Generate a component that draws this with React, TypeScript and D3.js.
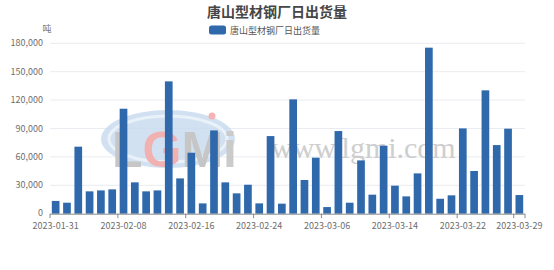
import React from "react";
import * as d3 from "d3";

const W = 554;
const H = 270;

const title = "唐山型材钢厂日出货量";
const seriesName = "唐山型材钢厂日出货量";
const unitLabel = "吨";

const dates = [
  "2023-01-31", "2023-02-01", "2023-02-02", "2023-02-03", "2023-02-06", "2023-02-07",
  "2023-02-08", "2023-02-09", "2023-02-10", "2023-02-13", "2023-02-14", "2023-02-15",
  "2023-02-16", "2023-02-17", "2023-02-20", "2023-02-21", "2023-02-22", "2023-02-23",
  "2023-02-24", "2023-02-27", "2023-02-28", "2023-03-01", "2023-03-02", "2023-03-03",
  "2023-03-06", "2023-03-07", "2023-03-08", "2023-03-09", "2023-03-10", "2023-03-13",
  "2023-03-14", "2023-03-15", "2023-03-16", "2023-03-17", "2023-03-20", "2023-03-21",
  "2023-03-22", "2023-03-23", "2023-03-24", "2023-03-27", "2023-03-28", "2023-03-29",
];

const shipments = [
  13500, 11600, 70800, 23600, 24600, 25700,
  110900, 33100, 23600, 24600, 139800, 37300,
  64400, 10900, 88000, 33100, 21500, 30600,
  10900, 82000, 10600, 120800, 35600, 59200,
  7000, 87300, 11600, 56300, 20100, 71800,
  29600, 18300, 42600, 175400, 15800, 19400,
  90100, 45100, 130300, 72500, 89800, 19700,
];

const yTicks = [0, 30000, 60000, 90000, 120000, 150000, 180000];
const xLabelIdx = [0, 6, 12, 18, 24, 30, 36, 41];
const xTickIdx = [0, 6, 12, 18, 24, 30, 36, 41, 42];

const left = 50;
const right = 525;
const top = 43.3;
const bottom = 213.7;

const FONT = "'Noto Sans CJK SC', 'Noto Sans', sans-serif";
const BAR = "#2f69ac";

export default function App() {
  const x = d3
    .scaleBand<string>()
    .domain(dates)
    .range([left, right])
    .paddingInner(0.32)
    .paddingOuter(0.16);
  const step = x.step();
  const boundary = (i: number) => left + i * step;

  const y = d3.scaleLinear().domain([0, 180000]).range([bottom, top]);
  const fmt = d3.format(",");

  return (
    <div style={{ position: "absolute", left: 0, top: 0 }}>
      <svg width={W} height={H} style={{ display: "block", background: "#fff" }}>
        {/* title */}
        <text
          x={277}
          y={17}
          textAnchor="middle"
          fontFamily={FONT}
          fontSize={14}
          fontWeight="bold"
          fill="#464646"
        >
          {title}
        </text>

        {/* legend */}
        <rect x={209} y={25.5} width={17} height={9} rx={2.5} fill={BAR} />
        <text x={230} y={33.5} fontFamily={FONT} fontSize={9} fill="#555">
          {seriesName}
        </text>

        {/* unit */}
        <text x={47} y={32} textAnchor="middle" fontFamily={FONT} fontSize={9} fill="#777">
          {unitLabel}
        </text>

        {/* grid lines and y labels */}
        {yTicks.map((t) => (
          <g key={t}>
            {t > 0 && (
              <line x1={left} x2={right} y1={y(t)} y2={y(t)} stroke="#e9ecf1" strokeWidth={1} />
            )}
            <text
              x={43}
              y={y(t) + (t === 0 ? 2 : 3)}
              textAnchor="end"
              fontFamily={FONT}
              fontSize={9}
              fill="#6e6e6e"
            >
              {fmt(t)}
            </text>
          </g>
        ))}

        {/* watermark */}
        <g opacity={0.85}>
          <ellipse cx={168} cy={139} rx={67} ry={29} fill="#cadcf0" />
          <ellipse cx={168} cy={139} rx={59} ry={23} fill="none" stroke="#e6eff8" strokeWidth={3} />
          <text x={112} y={167} fontFamily="'Liberation Sans', sans-serif" fontSize={50} fontWeight="bold">
            <tspan fill="#bdbdbd">L</tspan>
            <tspan fill="#f0a4a4">G</tspan>
            <tspan fill="#bdbdbd">M</tspan>
            <tspan fill="#c2c2c2">i</tspan>
          </text>
          <circle cx={212} cy={116} r={3.5} fill="#f3a7a9" />
          <text
            x={271}
            y={158}
            fontFamily="'Liberation Serif', serif"
            fontSize={30}
            fill="#c6c6c6"
          >
            www.lgmi.com
          </text>
        </g>

        {/* bars */}
        {shipments.map((v, i) => (
          <rect
            key={dates[i]}
            x={x(dates[i])}
            y={y(v)}
            width={x.bandwidth()}
            height={bottom - y(v)}
            fill={BAR}
          />
        ))}

        {/* x axis */}
        <line x1={left} x2={right} y1={bottom + 0.5} y2={bottom + 0.5} stroke="#8a8a8a" strokeWidth={1} />
        {xTickIdx.map((i) => (
          <line
            key={i}
            x1={boundary(i)}
            x2={boundary(i)}
            y1={bottom}
            y2={bottom + 4.5}
            stroke="#8a8a8a"
            strokeWidth={1}
          />
        ))}
        {xLabelIdx.map((i) => (
          <text
            key={i}
            x={(x(dates[i]) as number) + x.bandwidth() / 2}
            y={228.5}
            textAnchor="middle"
            fontFamily={FONT}
            fontSize={9}
            fill="#6e6e6e"
          >
            {dates[i]}
          </text>
        ))}
      </svg>
    </div>
  );
}
